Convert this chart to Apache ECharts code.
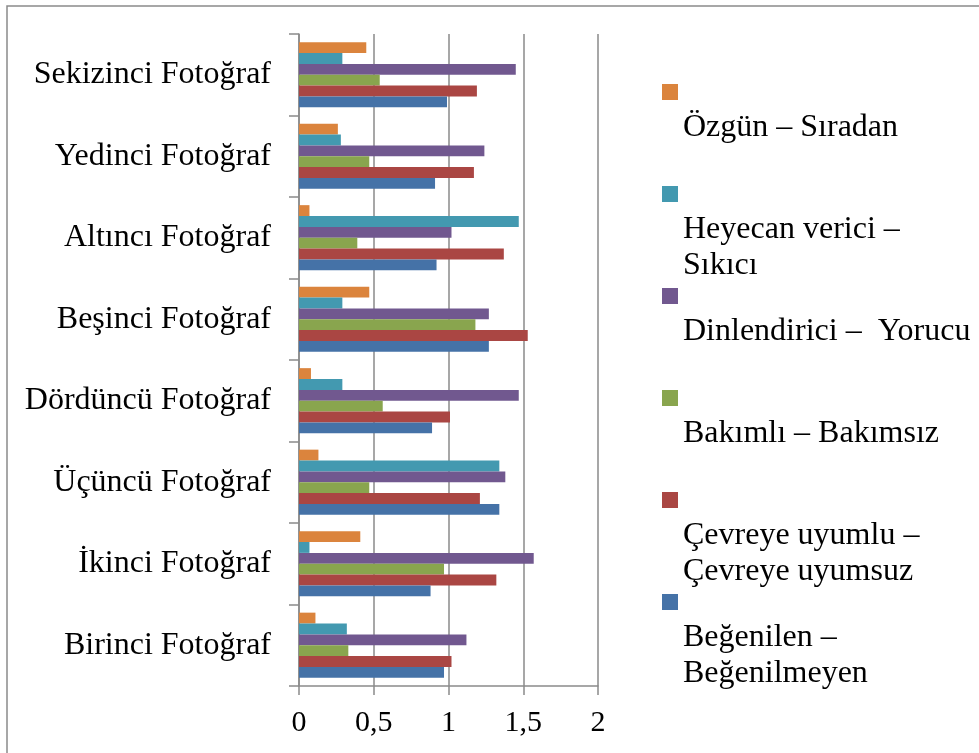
<!DOCTYPE html>
<html>
<head>
<meta charset="utf-8">
<script src="https://cdn.jsdelivr.net/npm/echarts@6/dist/echarts.min.js"></script>
<style>
html,body{margin:0;padding:0;background:#fff;}
#chart{width:979px;height:753px;}
</style>
</head>
<body>
<div id="chart"></div>
<script>
// Categories (bottom to top on the axis)
const categories = ['Birinci Fotoğraf','İkinci Fotoğraf','Üçüncü Fotoğraf','Dördüncü Fotoğraf','Beşinci Fotoğraf','Altıncı Fotoğraf','Yedinci Fotoğraf','Sekizinci Fotoğraf'];

// Series names (legend order, top to bottom)
const seriesNames = ['Özgün – Sıradan','Heyecan verici –\nSıkıcı','Dinlendirici –  Yorucu','Bakımlı – Bakımsız','Çevreye uyumlu –\nÇevreye uyumsuz','Beğenilen –\nBeğenilmeyen'];

// Values per series, in category order (Birinci ... Sekizinci)
const ozgunSiradan      = [0.11, 0.41, 0.13, 0.08, 0.47, 0.07, 0.26, 0.45];
const heyecanSikici     = [0.32, 0.07, 1.34, 0.29, 0.29, 1.47, 0.28, 0.29];
const dinlendiriciYorucu= [1.12, 1.57, 1.38, 1.47, 1.27, 1.02, 1.24, 1.45];
const bakimliBakimsiz   = [0.33, 0.97, 0.47, 0.56, 1.18, 0.39, 0.47, 0.54];
const cevreyeUyumlu     = [1.02, 1.32, 1.21, 1.01, 1.53, 1.37, 1.17, 1.19];
const begenilen         = [0.97, 0.88, 1.34, 0.89, 1.27, 0.92, 0.91, 0.99];

// Value axis ticks
const xTicks = [0, 0.5, 1, 1.5, 2];

const seriesValues = [ozgunSiradan, heyecanSikici, dinlendiriciYorucu, bakimliBakimsiz, cevreyeUyumlu, begenilen];
const colors = ['#DB843D','#4399B0','#71588F','#89A54E','#AA4643','#4572A7'];

const FONT = "'Liberation Serif','Times New Roman',serif";
const chart = echarts.init(document.getElementById('chart'), null, {renderer:'canvas'});

const option = {
  animation: false,
  backgroundColor: '#fff',
  color: colors,
  graphic: [{
    type: 'rect', z: -10,
    shape: {x: 7, y: 6, width: 1100, height: 1100},
    style: {fill: 'none', stroke: '#8a8a8a', lineWidth: 1.5}
  }],
  grid: {left: 299, right: 381, top: 34, bottom: 67, containLabel: false},
  legend: {
    orient: 'vertical',
    left: 657, top: 79,
    itemWidth: 16, itemHeight: 124, itemGap: -22,
    icon: 'path://M0,0L16,0L16,16L0,16Z M0,124L0,124',
    selectedMode: false,
    data: seriesNames,
    formatter: function (name) { return name.indexOf('\n') >= 0 ? name : name + '\n '; },
    textStyle: {fontFamily: FONT, fontSize: 32, lineHeight: 36, color: '#000'}
  },
  xAxis: {
    type: 'value',
    min: xTicks[0], max: xTicks[xTicks.length - 1], interval: xTicks[1] - xTicks[0],
    axisLine: {show: true, lineStyle: {color: '#8a8a8a', width: 1.5}},
    axisTick: {show: true, length: 9, lineStyle: {color: '#8a8a8a', width: 1.5}},
    splitLine: {show: true, lineStyle: {color: '#8a8a8a', width: 1.5}},
    axisLabel: {
      margin: 22, color: '#000', fontFamily: FONT, fontSize: 30,
      formatter: function (v) { return String(v).replace('.', ','); }
    }
  },
  yAxis: {
    type: 'category',
    data: categories,
    axisLine: {show: true, lineStyle: {color: '#8a8a8a', width: 1.5}},
    axisTick: {show: true, length: 10, lineStyle: {color: '#8a8a8a', width: 1.5}},
    axisLabel: {margin: 28, color: '#000', fontFamily: FONT, fontSize: 32, padding: [4, 0, 0, 0]}
  },
  series: seriesNames.map(function (n, i) {
    return {
      name: n, type: 'bar',
      data: seriesValues[i],
      barGap: '0%', barCategoryGap: '20%',
      itemStyle: {color: colors[i]}
    };
  })
};
chart.setOption(option);
</script>
</body>
</html>
